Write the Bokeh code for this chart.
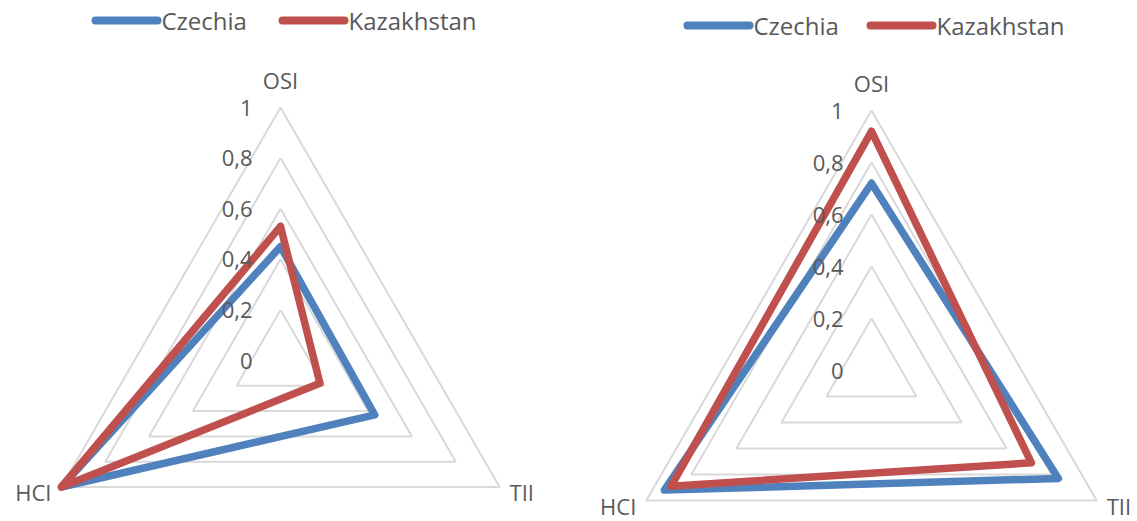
import math
from bokeh.plotting import figure
from bokeh.layouts import row
from bokeh.models import Range1d
from bokeh.core.properties import value
from bokeh.embed import file_html
from bokeh.resources import INLINE

# ---- data ----
categories = ["OSI", "TII", "HCI"]
series_names = ["Czechia", "Kazakhstan"]
left_czechia = [0.45, 0.43, 1.0]
left_kazakhstan = [0.53, 0.18, 1.0]
right_czechia = [0.72, 0.83, 0.92]
right_kazakhstan = [0.92, 0.71, 0.89]
tick_values = [0, 0.2, 0.4, 0.6, 0.8, 1.0]
tick_labels = ["0", "0,2", "0,4", "0,6", "0,8", "1"]

# ---- style ----
BLUE = "#4F81BD"
RED = "#C0504D"
GRID = "#D9D9D9"
TXT = "#595959"
FONT = value("Open Sans")
H = 521
ANGLES = [90, -30, 210]  # OSI, TII, HCI (clockwise from top)


def pt(cx, cy, r, v, ang):
    a = math.radians(ang)
    return cx + v * r * math.cos(a), cy - v * r * math.sin(a)


def radar(width, cx, cy, R, czech, kaz, leg_y, leg_x0, leg_x1):
    p = figure(width=width, height=H, output_backend="svg", toolbar_location=None,
               x_range=Range1d(0, width), y_range=Range1d(H, 0),
               min_border=0, outline_line_color=None)
    p.axis.visible = False
    p.grid.visible = False
    p.background_fill_color = "white"
    p.border_fill_color = "white"

    # rings
    for v in tick_values[1:]:
        xs, ys = [], []
        for ang in ANGLES + [ANGLES[0]]:
            x, y = pt(cx, cy, R, v, ang)
            xs.append(x)
            ys.append(y)
        p.line(xs, ys, line_color=GRID, line_width=2)

    # series
    for vals, col in ((czech, BLUE), (kaz, RED)):
        xs, ys = [], []
        for v, ang in zip(vals + [vals[0]], ANGLES + [ANGLES[0]]):
            x, y = pt(cx, cy, R, v, ang)
            xs.append(x)
            ys.append(y)
        p.line(xs, ys, line_color=col, line_width=7.5, line_join="round", line_cap="round")

    # tick labels
    p.text(x=[cx - 28] * len(tick_values), y=[cy - v * R for v in tick_values],
           text=tick_labels, text_align="right", text_baseline="middle",
           text_font=FONT, text_font_size="22px", text_color=TXT)

    # category labels
    ox, oy = pt(cx, cy, R, 1, ANGLES[0])
    p.text(x=[ox], y=[oy - 28], text=[categories[0]], text_align="center",
           text_baseline="middle", text_font=FONT, text_font_size="22px", text_color=TXT)
    tx, ty = pt(cx, cy, R, 1, ANGLES[1])
    p.text(x=[tx + 10], y=[ty + 5], text=[categories[1]], text_align="left",
           text_baseline="middle", text_font=FONT, text_font_size="22px", text_color=TXT)
    hx, hy = pt(cx, cy, R, 1, ANGLES[2])
    p.text(x=[hx - 10], y=[hy + 5], text=[categories[2]], text_align="right",
           text_baseline="middle", text_font=FONT, text_font_size="22px", text_color=TXT)

    # legend
    for x0, name, col in ((leg_x0, series_names[0], BLUE), (leg_x1, series_names[1], RED)):
        p.line([x0, x0 + 62], [leg_y, leg_y], line_color=col, line_width=8, line_cap="round")
        p.text(x=[x0 + 66], y=[leg_y], text=[name], text_align="left", text_baseline="middle",
               text_font=FONT, text_font_size="24px", text_color=TXT)
    return p


left = radar(568, 280, 360, 253, left_czechia, left_kazakhstan, 20, 95, 282)
right = radar(569, 303, 370, 260, right_czechia, right_kazakhstan, 25, 119, 302)

layout = row(left, right)
open("out.html", "w").write(file_html(layout, INLINE))
